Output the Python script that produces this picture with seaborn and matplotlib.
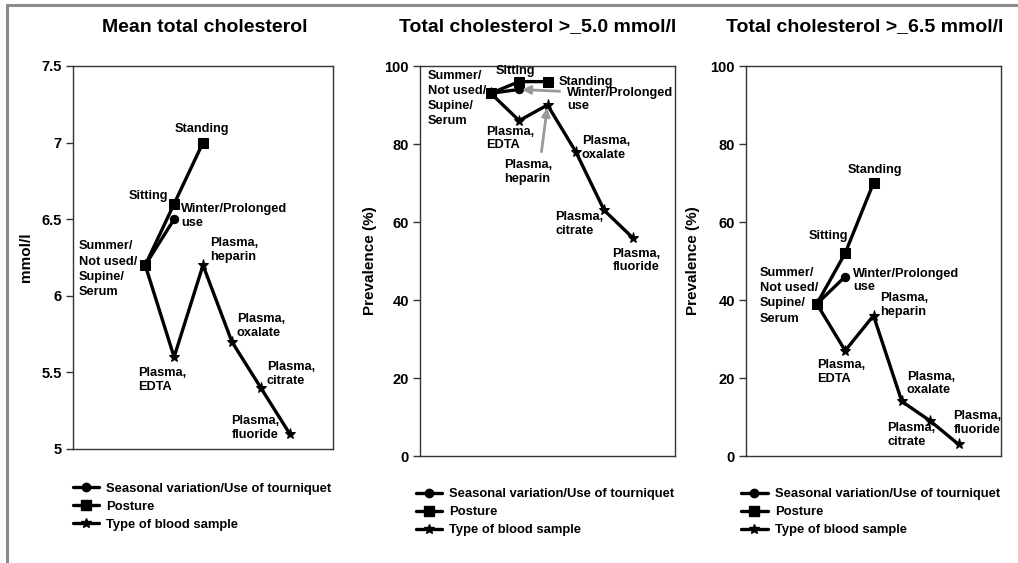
import numpy as np
import matplotlib
matplotlib.use("Agg")
import matplotlib.pyplot as plt
import seaborn as sns
from matplotlib.lines import Line2D

sns.set_style("white")
plt.rcParams["font.family"] = ["Liberation Sans", "DejaVu Sans"]
plt.rcParams["font.weight"] = "bold"
plt.rcParams["axes.labelweight"] = "bold"
plt.rcParams["text.color"] = "black"
plt.rcParams["axes.labelcolor"] = "black"
plt.rcParams["ytick.color"] = "black"
plt.rcParams["xtick.color"] = "black"

# ---- data -------------------------------------------------------------
panel_titles = ["Mean total cholesterol",
                "Total cholesterol >_5.0 mmol/l",
                "Total cholesterol >_6.5 mmol/l"]
y_labels = ["mmol/l", "Prevalence (%)", "Prevalence (%)"]
series_names = ["Seasonal variation/Use of tourniquet", "Posture",
                "Type of blood sample"]

baseline_label = "Summer/\nNot used/\nSupine/\nSerum"
seasonal_labels = ["Winter/Prolonged\nuse"]
posture_labels = ["Sitting", "Standing"]
sample_labels = ["Plasma,\nEDTA", "Plasma,\nheparin", "Plasma,\noxalate",
                 "Plasma,\ncitrate", "Plasma,\nfluoride"]

# first value of each series is the reference condition
mean_seasonal = [6.2, 6.5]
mean_posture = [6.2, 6.6, 7.0]
mean_sample = [6.2, 5.6, 6.2, 5.7, 5.4, 5.1]

p50_seasonal = [93, 94]
p50_posture = [93, 96, 96]
p50_sample = [93, 86, 90, 78, 63, 56]

p65_seasonal = [39, 46]
p65_posture = [39, 52, 70]
p65_sample = [39, 27, 36, 14, 9, 3]

mean_ticks = [5, 5.5, 6, 6.5, 7, 7.5]
mean_ticklabels = ["5", "5.5", "6", "6.5", "7", "7.5"]
prev_ticks = [0, 20, 40, 60, 80, 100]
prev_ticklabels = ["0", "20", "40", "60", "80", "100"]

panels = [
    dict(seasonal=mean_seasonal, posture=mean_posture, sample=mean_sample,
         ticks=mean_ticks, ticklabels=mean_ticklabels, ylim=(5, 7.5)),
    dict(seasonal=p50_seasonal, posture=p50_posture, sample=p50_sample,
         ticks=prev_ticks, ticklabels=prev_ticklabels, ylim=(0, 100)),
    dict(seasonal=p65_seasonal, posture=p65_posture, sample=p65_sample,
         ticks=prev_ticks, ticklabels=prev_ticklabels, ylim=(0, 100)),
]

# ---- label placement (pixel offsets from the point, alignment, arrow) --
label_offsets = [
    {"base": (-8, -4, "right"), "Sitting": (-26, 8, "center"),
     "Standing": (-1, 14, "center"), "winter": (7, 3, "left"),
     "EDTA": (-12, -23, "center"), "heparin": (7, 15, "left"),
     "oxalate": (5, 16, "left"), "citrate": (6, 14, "left"),
     "fluoride": (-10, 6, "right")},
    {"base": (-5, -5, "right"), "Sitting": (-4, 11, "center"),
     "Standing": (11, 0, "left"), "winter": (48, -10, "left", (0.0, 0.8)),
     "EDTA": (-9, -18, "center"), "heparin": (-19, -67, "center", (0.75, 1.0)),
     "oxalate": (6, 4, "left"), "citrate": (-25, -14, "center"),
     "fluoride": (4, -23, "center")},
    {"base": (1, 8, "right"), "Sitting": (-17, 17, "center"),
     "Standing": (1, 13, "center"), "winter": (8, -4, "left"),
     "EDTA": (-4, -21, "center"), "heparin": (7, 11, "left"),
     "oxalate": (5, 18, "left"), "citrate": (-19, -14, "center"),
     "fluoride": (-5, 21, "left")},
]

W, H = 1018, 563
fig = plt.figure(figsize=(W / 100, H / 100), dpi=100)

# axes boxes in pixels: left, right, top, bottom
boxes = [(73, 333, 66, 449), (420, 675, 66, 456), (746, 1001, 66, 456)]
title_x = [205, 538, 865]
ylabel_x = [-0.155, -0.17, -0.18]
legend_anchor = [(0.0, -0.088), (-0.015, -0.082), (-0.018, -0.082)]

LW = 2.4
ANN_FS = 9.2


def key_of(text):
    if text == baseline_label:
        return "base"
    if text.startswith("Winter"):
        return "winter"
    if text.startswith("Plasma"):
        return text.split("\n")[1].strip()
    return text


for i, (pan, box) in enumerate(zip(panels, boxes)):
    l, r, t, b = box
    ax = fig.add_axes([l / W, 1 - b / H, (r - l) / W, (b - t) / H])

    sns.lineplot(x=np.arange(len(pan["seasonal"])), y=pan["seasonal"], ax=ax,
                 color="black", lw=LW, marker="o", markersize=6,
                 markeredgecolor="black", zorder=3)
    sns.lineplot(x=np.arange(len(pan["sample"])), y=pan["sample"], ax=ax,
                 color="black", lw=LW, marker="*", markersize=8,
                 markeredgecolor="black", zorder=4)
    sns.lineplot(x=np.arange(len(pan["posture"])), y=pan["posture"], ax=ax,
                 color="black", lw=LW, marker="s", markersize=7.5,
                 markeredgecolor="black", zorder=5)

    ax.set_xlim(-2.5, 6.5)
    ax.set_ylim(*pan["ylim"])
    ax.set_xticks([])
    ax.set_yticks(pan["ticks"])
    ax.set_yticklabels(pan["ticklabels"], fontsize=10.5, fontweight="bold")
    ax.tick_params(axis="y", direction="out", length=5, width=1,
                   color="#333333", pad=3, left=True, labelcolor="black")
    for s in ax.spines.values():
        s.set_color("#333333")
        s.set_linewidth(1.0)
    ax.set_xlabel("")
    ax.set_ylabel(y_labels[i], fontsize=11, fontweight="bold", color="black")
    ax.yaxis.set_label_coords(ylabel_x[i], 0.5)

    # point labels
    items = [(baseline_label, 0, pan["sample"][0])]
    items += [(seasonal_labels[0], 1, pan["seasonal"][1])]
    items += [(lab, k + 1, pan["posture"][k + 1]) for k, lab in enumerate(posture_labels)]
    items += [(lab, k + 1, pan["sample"][k + 1]) for k, lab in enumerate(sample_labels)]
    offs = label_offsets[i]
    for text, xv, yv in items:
        spec = offs[key_of(text)]
        dx, dy, ha = spec[:3]
        ls = 1.35 if text == baseline_label else 1.2
        kw = {}
        if len(spec) > 3:
            kw["arrowprops"] = dict(arrowstyle="-|>", color="#999999", lw=2,
                                    mutation_scale=12, shrinkA=3, shrinkB=2,
                                    relpos=spec[3])
        ax.annotate(text, xy=(xv, yv), xytext=(dx, dy),
                    textcoords="offset pixels", ha=ha, va="center",
                    multialignment="left", fontsize=ANN_FS, color="black",
                    fontweight="bold", linespacing=ls, zorder=6, **kw)

    handles = [
        Line2D([], [], color="black", lw=LW, marker="o", markersize=6),
        Line2D([], [], color="black", lw=LW, marker="s", markersize=7),
        Line2D([], [], color="black", lw=LW, marker="*", markersize=7.5),
    ]
    leg = ax.legend(handles, series_names, loc="upper left",
                    bbox_to_anchor=legend_anchor[i], frameon=False,
                    handlelength=2.0, handletextpad=0.55, labelspacing=0.45,
                    borderaxespad=0, borderpad=0,
                    prop=dict(size=9.4, weight="bold"))
    for txt in leg.get_texts():
        txt.set_color("black")

    fig.text(title_x[i] / W, 1 - 27 / H, panel_titles[i], ha="center",
             va="center", fontsize=14, fontweight="bold", color="black")

# page frame on the left and top edges
fig.add_artist(Line2D([7 / W, 7 / W], [0, 1 - 5 / H], transform=fig.transFigure,
                      color="#8a8a8a", lw=2.2))
fig.add_artist(Line2D([7 / W, 1], [1 - 5 / H, 1 - 5 / H], transform=fig.transFigure,
                      color="#8a8a8a", lw=2.2))

fig.savefig("out.png", dpi=100)
